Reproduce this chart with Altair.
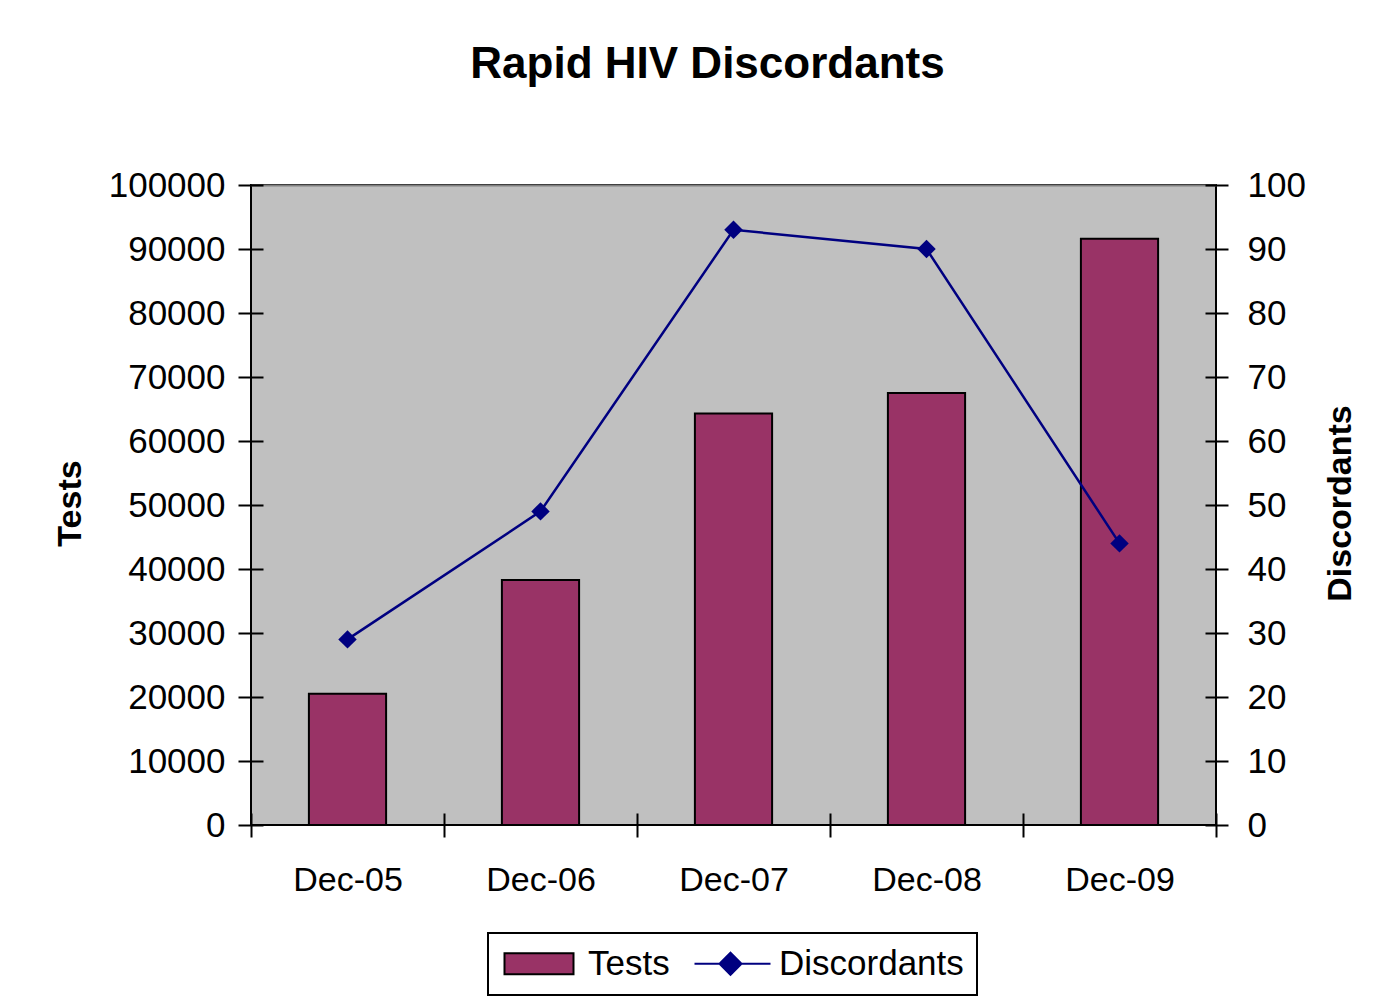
import altair as alt
import pandas as pd

FONT = "Liberation Sans"

months = ["Dec-05", "Dec-06", "Dec-07", "Dec-08", "Dec-09"]
tests = [20500, 38300, 64300, 67500, 91600]
discordants = [29, 49, 93, 90, 44]
series_names = ["Tests", "Discordants"]
tests_ticks = list(range(0, 100001, 10000))
disc_ticks = list(range(0, 101, 10))

rows = []
for m, t, d in zip(months, tests, discordants):
    rows.append({"month": m, "series": "Tests", "value": t})
    rows.append({"month": m, "series": "Discordants", "value": d})
df = pd.DataFrame(rows)

BAR = "#993366"
NAVY = "#000080"
PLOT_BG = "#C0C0C0"

# legend symbol shapes (custom paths in symbol units)
rect_path = "M-1.4,-1.05H5.5V1.05H-1.4Z"
line_diamond_path = "M-1.5,0H6.1M2.1,-1.1L3.2,0L2.1,1.1L1.0,0Z"

legend = alt.Legend(
    orient="none", legendX=237, legendY=748, direction="horizontal", title=None,
    strokeColor="black", fillColor="white", padding=13,
    symbolSize=400, symbolStrokeWidth=2, symbolOpacity=1,
    labelFont=FONT, labelFontSize=35, labelColor="black", labelOffset=52,
    labelLimit=500, columnPadding=20,
)

fill_scale = alt.Scale(domain=series_names, range=[BAR, NAVY])
stroke_scale = alt.Scale(domain=series_names, range=["black", NAVY])
shape_scale = alt.Scale(domain=series_names, range=[rect_path, line_diamond_path])

x_sort = months

bars = alt.Chart(df).transform_filter(alt.datum.series == "Tests").mark_bar(
    width=alt.RelativeBandSize(0.4), strokeWidth=2
).encode(
    x=alt.X("month:N", sort=x_sort, scale=alt.Scale(paddingInner=0, paddingOuter=0),
            axis=alt.Axis(orient="bottom", title=None, domain=False, offset=-12, tickSize=24,
                          tickBand="extent", tickColor="black", tickWidth=2,
                          labelAngle=0, labelFont=FONT, labelFontSize=34, labelColor="black",
                          labelPadding=26)),
    y=alt.Y("value:Q", scale=alt.Scale(domain=[0, 100000], nice=False),
            axis=alt.Axis(orient="left", values=tests_ticks, format="d", domain=False, offset=-12,
                          tickSize=25, tickColor="black", tickWidth=2, grid=False,
                          labelFont=FONT, labelFontSize=35, labelColor="black", labelPadding=13,
                          labelFlush=False, labelOverlap=False,
                          title="Tests", titleFont=FONT, titleFontSize=34, titleFontWeight="bold",
                          titleColor="black", titleAngle=270, titleBaseline="alphabetic",
                          titleAlign="center", titleX=-183, titleY=318)),
    fill=alt.Fill("series:N", scale=fill_scale, legend=legend),
    stroke=alt.Stroke("series:N", scale=stroke_scale, legend=legend),
)

line_base = alt.Chart(df).transform_filter(alt.datum.series == "Discordants")

y_disc = alt.Y("value:Q", scale=alt.Scale(domain=[0, 100], nice=False),
               axis=alt.Axis(orient="right", values=disc_ticks, format="d", domain=False, offset=-11,
                             tickSize=23, tickColor="black", tickWidth=2, grid=False,
                             labelFont=FONT, labelFontSize=35, labelColor="black", labelPadding=19,
                             labelFlush=False, labelOverlap=False,
                             title="Discordants", titleFont=FONT, titleFontSize=34,
                             titleFontWeight="bold", titleColor="black", titleAngle=270,
                             titleBaseline="alphabetic", titleAlign="center",
                             titleX=145, titleY=318))

line = line_base.mark_line(color=NAVY, strokeWidth=2.5).encode(
    x=alt.X("month:N", sort=x_sort,
            axis=alt.Axis(orient="top", title=None, labels=False, ticks=False, grid=False,
                          domain=True, domainColor="#808080", domainWidth=2)),
    y=y_disc,
)

points = line_base.mark_point(shape="diamond", filled=True, size=340, color=NAVY, opacity=1).encode(
    x=alt.X("month:N", sort=x_sort),
    y=alt.Y("value:Q"),
)

shape_legend_layer = alt.Chart(df).transform_filter(alt.datum.series == "none").mark_point(
    opacity=1
).encode(
    shape=alt.Shape("series:N", scale=shape_scale, legend=legend),
)

inner = alt.layer(line, points, shape_legend_layer)

chart = alt.layer(bars, inner).resolve_scale(
    y="independent"
).resolve_axis(
    x="independent"
).properties(
    width=965, height=640,
    autosize=alt.AutoSizeParams(type="none"),
    padding={"left": 243, "top": 177, "right": 151, "bottom": 172},
    background="white",
    view=alt.ViewBackground(fill=PLOT_BG, stroke="black", strokeWidth=2),
    title=alt.TitleParams("Rapid HIV Discordants", font=FONT, fontSize=44, fontWeight="bold",
                          color="black", anchor="middle", frame="group", dx=-26,
                          baseline="alphabetic", offset=46),
).configure_view(
    fill=PLOT_BG, stroke="black", strokeWidth=2
).configure_legend(
    strokeWidth=2
)

chart.save("out.html", embed_options={"renderer": "svg", "actions": False})
